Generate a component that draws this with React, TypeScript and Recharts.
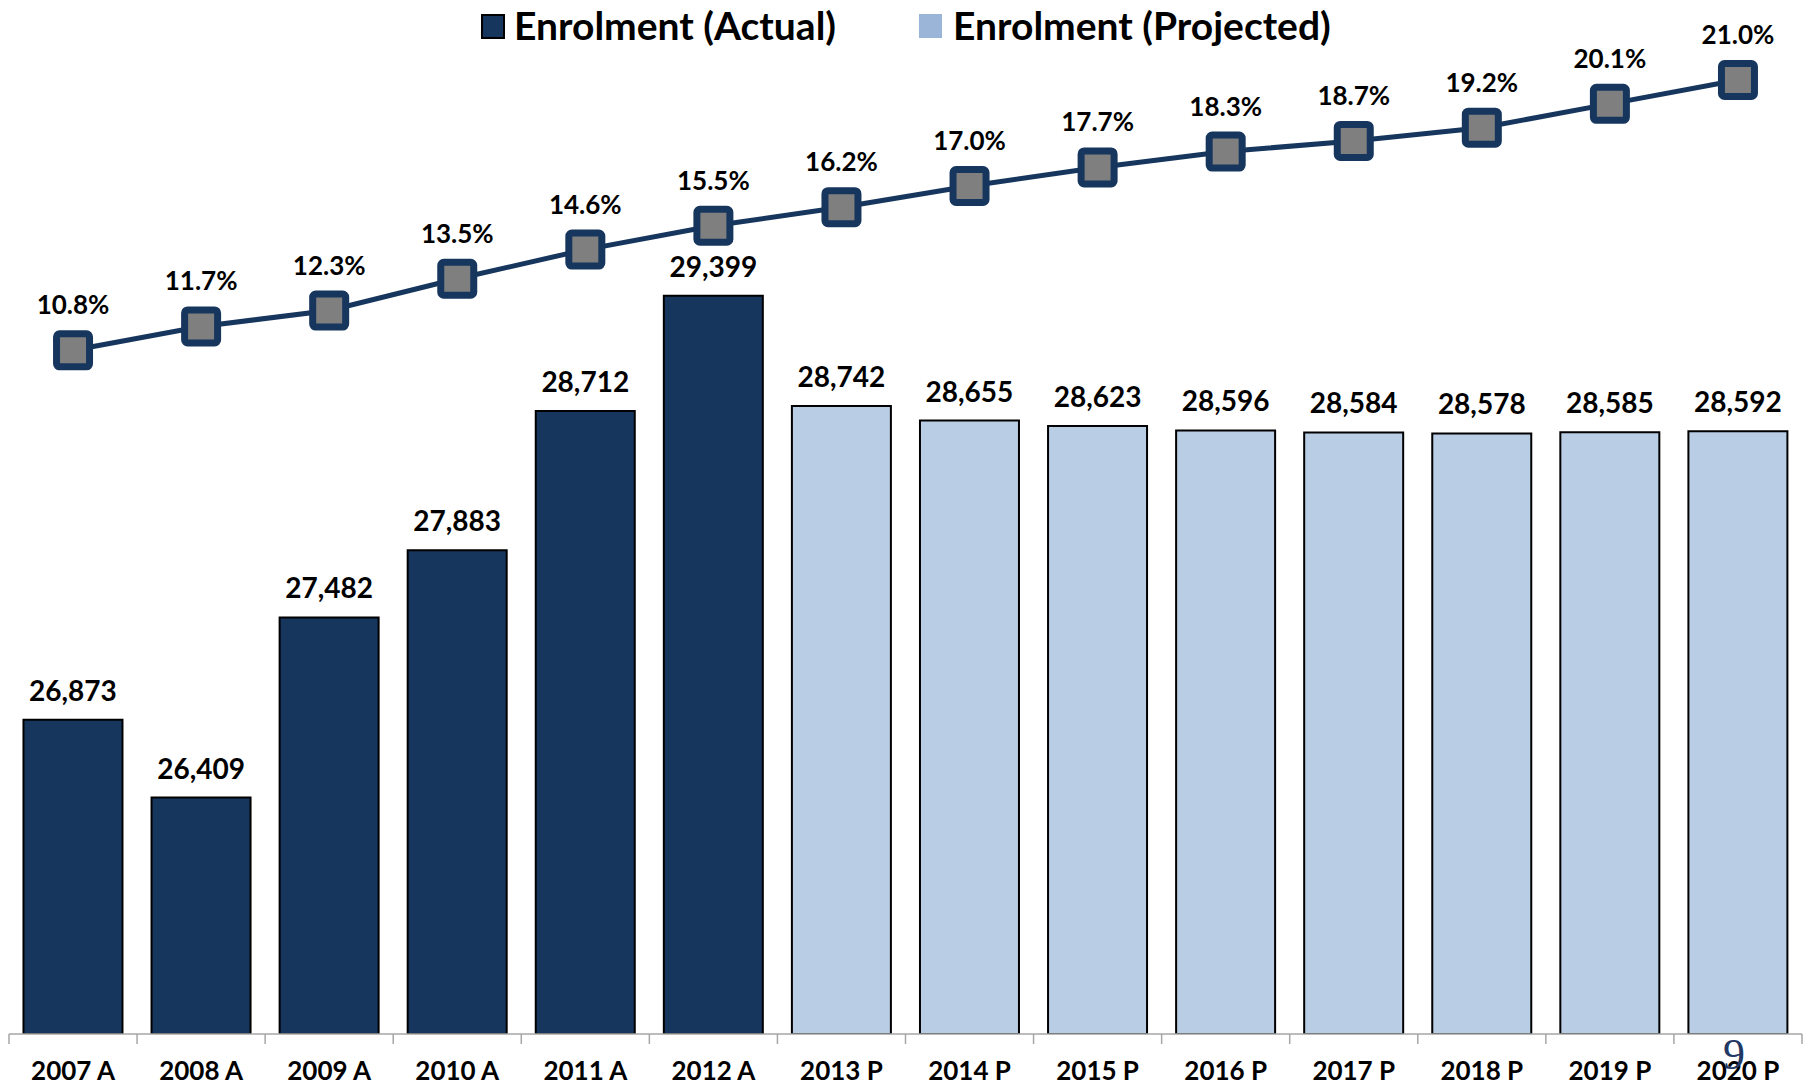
import { ComposedChart, Bar, Line, XAxis, YAxis, LabelList, Cell } from 'recharts';

const categories = ['2007 A', '2008 A', '2009 A', '2010 A', '2011 A', '2012 A', '2013 P', '2014 P', '2015 P', '2016 P', '2017 P', '2018 P', '2019 P', '2020 P'];
const enrolment = [26873, 26409, 27482, 27883, 28712, 29399, 28742, 28655, 28623, 28596, 28584, 28578, 28585, 28592];
const isProjected = [false, false, false, false, false, false, true, true, true, true, true, true, true, true];
const sharePct = [10.8, 11.7, 12.3, 13.5, 14.6, 15.5, 16.2, 17.0, 17.7, 18.3, 18.7, 19.2, 20.1, 21.0];

const data = categories.map((c, i) => ({
  year: c,
  enrol: enrolment[i],
  share: sharePct[i],
}));

const NAVY = '#17365d';
const LIGHT = '#b9cde5';
const FONT = 'Lato, "Open Sans", sans-serif';

const YearTick = (props: any) => {
  const { x, y, payload, index, width } = props;
  const half = payload && payload.offset ? payload.offset : width / categories.length / 2;
  return (
    <g>
      <line x1={x - half} x2={x - half} y1={y} y2={y + 10} stroke='#a6a6a6' strokeWidth={1.5} />
      {index === categories.length - 1 && (
        <line x1={x + half} x2={x + half} y1={y} y2={y + 10} stroke='#a6a6a6' strokeWidth={1.5} />
      )}
      <text x={x} y={y + 46} textAnchor='middle' fill='#000' fontFamily={FONT} fontWeight={700} fontSize={26}>
        {payload.value}
      </text>
    </g>
  );
};

const SquareDot = (props: any) => {
  const { cx, cy } = props;
  if (cx == null || cy == null) return null;
  const s = 33;
  return <rect x={cx - s / 2} y={cy - s / 2} width={s} height={s} rx={3} fill='#7f7f7f' stroke={NAVY} strokeWidth={7} />;
};

const App = () => {
  return (
    <div style={{ position: 'absolute', left: 0, top: 0, width: 1808, height: 1085, background: '#fff' }}>
      <ComposedChart width={1808} height={1085} data={data} margin={{ top: 27, right: 6, bottom: 0, left: 9 }} barCategoryGap='11.3%'>
        <XAxis
          dataKey='year'
          height={51}
          interval={0}
          tickSize={0}
          tickMargin={0}
          stroke='#a6a6a6'
          strokeWidth={1.5}
          tick={<YearTick />}
        />
        <YAxis yAxisId='left' hide domain={[25000, 31000]} allowDataOverflow />
        <YAxis yAxisId='right' hide orientation='right' domain={[-15, 23]} allowDataOverflow />
        <Bar yAxisId='left' dataKey='enrol' stroke='#000' strokeWidth={2} isAnimationActive={false}>
          {data.map((d, i) => (
            <Cell key={d.year} fill={isProjected[i] ? LIGHT : NAVY} />
          ))}
          <LabelList dataKey='enrol' position='top' offset={19} fill='#000' fontFamily={FONT} fontWeight={700} fontSize={28}
            formatter={(v: any) => Number(v).toLocaleString('en-US')} />
        </Bar>
        <Line yAxisId='right' type='linear' dataKey='share' stroke={NAVY} strokeWidth={5} dot={<SquareDot />} activeDot={false} isAnimationActive={false}>
          <LabelList dataKey='share' position='top' offset={36} fill='#000' fontFamily={FONT} fontWeight={700} fontSize={26}
            formatter={(v: any) => Number(v).toFixed(1) + '%'} />
        </Line>
      </ComposedChart>

      {/* legend */}
      <div style={{ position: 'absolute', left: 481, top: 14, width: 20, height: 21, background: NAVY, border: '2px solid #000' }} />
      <div style={{ position: 'absolute', left: 514, top: 0, fontFamily: FONT, fontWeight: 700, fontSize: 39, lineHeight: '50px', color: '#000', whiteSpace: 'nowrap' }}>
        Enrolment (Actual)
      </div>
      <div style={{ position: 'absolute', left: 919, top: 14, width: 23, height: 24, background: '#9ab5d8' }} />
      <div style={{ position: 'absolute', left: 953, top: 0, fontFamily: FONT, fontWeight: 700, fontSize: 39, lineHeight: '50px', color: '#000', whiteSpace: 'nowrap' }}>
        Enrolment (Projected)
      </div>

      {/* slide number */}
      <div style={{ position: 'absolute', left: 1723, top: 1032, fontFamily: '"Liberation Serif", serif', fontSize: 44, lineHeight: '46px', color: '#1f3864' }}>
        9
      </div>
    </div>
  );
};

export default App;
